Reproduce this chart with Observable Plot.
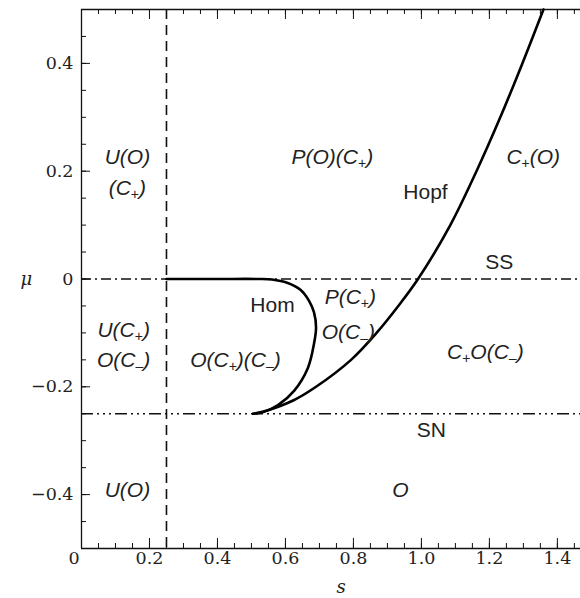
<!DOCTYPE html>
<html><head><meta charset="utf-8">
<script src="https://cdn.jsdelivr.net/npm/d3@7"></script>
<script src="https://cdn.jsdelivr.net/npm/@observablehq/plot@0.6"></script>
<style>html,body{margin:0;padding:0;background:#fff}</style>
</head><body><div id="chart"></div>
<script>
// ---- data ----
const xMajorTicks = [0.2, 0.4, 0.6, 0.8, 1.0, 1.2, 1.4];
const xMinorTicks = d3.range(1, 30).map(i => i / 20);
const yMajorTicks = [-0.4, -0.2, 0, 0.2, 0.4];
const yMinorTicks = d3.range(-9, 10).map(i => i / 20);

const homS  = [0.25, 0.40, 0.52, 0.56, 0.605, 0.644, 0.669, 0.684, 0.690, 0.684, 0.666, 0.626, 0.578, 0.535, 0.505];
const homMu = [0, 0, 0, -0.001, -0.007, -0.02, -0.04, -0.062, -0.09, -0.12, -0.165, -0.207, -0.234, -0.247, -0.25];

const hopfS  = [0.505, 0.546, 0.624, 0.690, 0.793, 0.868, 0.932, 0.990, 1.085, 1.162, 1.232, 1.297, 1.359];
const hopfMu = [-0.25, -0.244, -0.225, -0.2, -0.15, -0.1, -0.05, 0, 0.1, 0.2, 0.3, 0.4, 0.5];

const ssMu = 0;      // SS line
const snMu = -0.25;  // SN line
const sCrit = 0.25;  // vertical dashed line

const mathLabels = ["U(O)", "(C₊)", "P(O)(C₊)", "C₊(O)", "P(C₊)", "O(C₋)", "U(C₊)", "O(C₋)", "O(C₊)(C₋)", "C₊O(C₋)", "U(O)", "O"];
const mathS      = [0.135, 0.135, 0.738, 1.329, 0.791, 0.785, 0.124, 0.124, 0.453, 1.188, 0.135, 0.938];
const mathMu     = [0.225, 0.168, 0.225, 0.225, -0.034, -0.099, -0.096, -0.151, -0.151, -0.136, -0.392, -0.392];

const nameLabels = ["Hopf", "SS", "Hom", "SN"];
const nameS      = [1.012, 1.229, 0.562, 1.029];
const nameMu     = [0.160, 0.031, -0.049, -0.281];

// ---- layout ----
const W = 580, H = 598, mL = 81, mR = 0, mT = 9, mB = 50;
const innerW = W - mL - mR, innerH = H - mT - mB;
const serif = "DejaVu Serif";
const sans = "Liberation Sans, Arial, DejaVu Sans, sans-serif";
const fmt = d => d === 0 ? "0" : (d < 0 ? "−" : "") + Math.abs(d).toFixed(1);

const homData = homS.map((s, i) => ({s, mu: homMu[i]}));
const hopfData = hopfS.map((s, i) => ({s, mu: hopfMu[i]}));
const mathData = mathLabels.map((t, i) => ({t, s: mathS[i], mu: mathMu[i]}));
const nameData = nameLabels.map((t, i) => ({t, s: nameS[i], mu: nameMu[i]}));

const chart = Plot.plot({
  width: W, height: H,
  marginLeft: mL, marginRight: mR, marginTop: mT, marginBottom: mB,
  x: {domain: [0, 1.468], axis: null},
  y: {domain: [-0.5, 0.5], axis: null},
  style: {background: "#fff", color: "#111"},
  marks: [
    Plot.ruleY([-0.5, 0.5], {stroke: "#111", strokeWidth: 1.3}),
    Plot.ruleX([0], {stroke: "#111", strokeWidth: 1.3}),
    Plot.tickX(xMinorTicks, {x: d => d, insetTop: innerH - 5, stroke: "#111"}),
    Plot.tickX(xMajorTicks, {x: d => d, insetTop: innerH - 10, stroke: "#111"}),
    Plot.tickX(xMinorTicks, {x: d => d, insetBottom: innerH - 5, stroke: "#111"}),
    Plot.tickX(xMajorTicks, {x: d => d, insetBottom: innerH - 10, stroke: "#111"}),
    Plot.tickY(yMinorTicks, {y: d => d, insetRight: innerW - 5, stroke: "#111"}),
    Plot.tickY(yMajorTicks, {y: d => d, insetRight: innerW - 9, stroke: "#111"}),
    Plot.text(xMajorTicks, {x: d => d, text: fmt, frameAnchor: "bottom", dy: 15, fontFamily: serif, fontSize: 17.5, fill: "#222"}),
    Plot.text(yMajorTicks, {y: d => d, text: fmt, frameAnchor: "left", dx: -8, textAnchor: "end", fontFamily: serif, fontSize: 17.5, fill: "#222"}),
    Plot.text(["0"], {frameAnchor: "bottom-left", dx: -13, dy: 15, fontFamily: serif, fontSize: 17.5, fill: "#222"}),
    Plot.text(["s"], {frameAnchor: "bottom", dx: 10, dy: 44, fontFamily: serif, fontStyle: "italic", fontSize: 18, fill: "#222"}),
    Plot.text(["μ"], {y: [0], frameAnchor: "left", dx: -61, fontFamily: serif, fontStyle: "italic", fontSize: 18, fill: "#222"}),
    Plot.ruleX([sCrit], {stroke: "#111", strokeWidth: 1.6, strokeDasharray: "10,6"}),
    Plot.ruleY([ssMu], {stroke: "#111", strokeWidth: 1.4, strokeDasharray: "10,4,2,4"}),
    Plot.ruleY([snMu], {stroke: "#111", strokeWidth: 1.4, strokeDasharray: "12,4,2,4,2,4,2,4"}),
    Plot.line(homData, {x: "s", y: "mu", curve: "catmull-rom", stroke: "#000", strokeWidth: 2.6}),
    Plot.line(hopfData, {x: "s", y: "mu", curve: "catmull-rom", stroke: "#000", strokeWidth: 2.6}),
    Plot.text(mathData, {x: "s", y: "mu", text: "t", fontFamily: sans, fontStyle: "italic", fontSize: 21, fill: "#222"}),
    Plot.text(nameData, {x: "s", y: "mu", text: "t", fontFamily: sans, fontSize: 21, fill: "#222"})
  ]
});
document.getElementById("chart").appendChild(chart);

// render subscript + / − as real subscripts
const NS = "http://www.w3.org/2000/svg";
chart.querySelectorAll("text").forEach(el => {
  const s = el.textContent;
  if (!/[₊₋]/.test(s)) return;
  while (el.firstChild) el.removeChild(el.firstChild);
  for (const part of s.split(/([₊₋])/)) {
    if (!part) continue;
    const t = document.createElementNS(NS, "tspan");
    if (part === "₊" || part === "₋") {
      t.textContent = part === "₊" ? "+" : "–";
      t.setAttribute("font-size", "14");
      t.setAttribute("font-style", "normal");
      t.setAttribute("baseline-shift", "-4");
    } else {
      t.textContent = part;
    }
    el.appendChild(t);
  }
});
</script>
</body></html>
